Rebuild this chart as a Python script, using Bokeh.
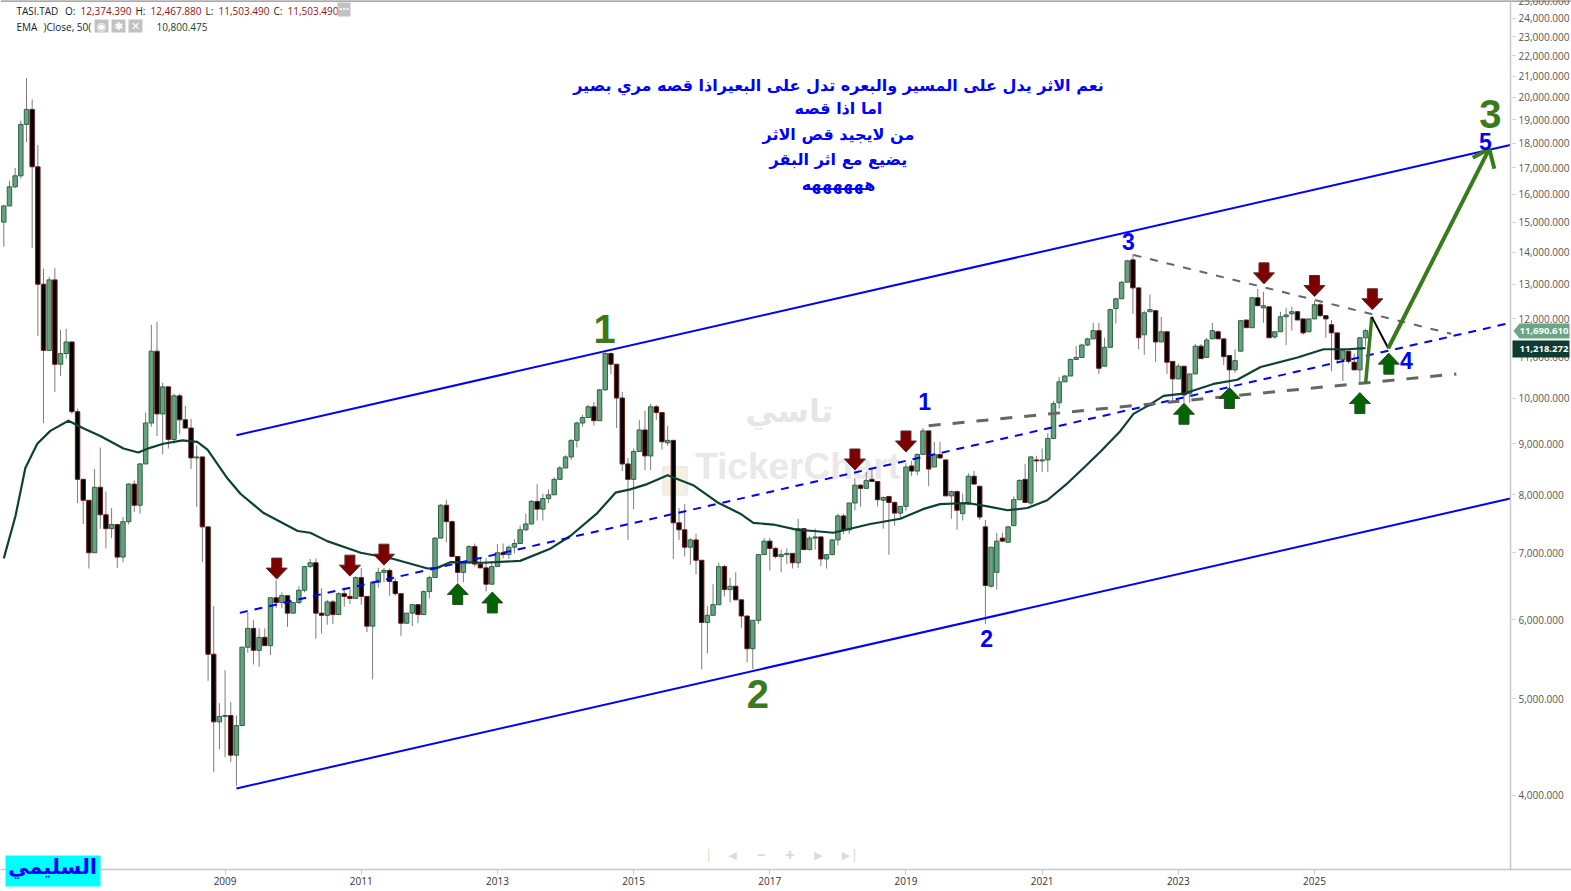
import math
from bokeh.plotting import figure
from bokeh.models import FixedTicker, NumeralTickFormatter, Label, PolyAnnotation, Range1d
from bokeh.core.properties import value
from bokeh.embed import file_html
from bokeh.resources import INLINE

opens = [15000,15570,16270,16690,18790,19450,17040,13000,11160,13130,
10810,11080,11380,9690,8290,7900,7000,8140,7640,7400,
7470,6930,7520,8200,7810,8590,9440,11140,9640,10260,
9090,10050,9510,9330,8710,8730,7430,5540,4740,4800,
4810,4390,4700,5630,5880,5590,5760,5650,6310,6240,
6340,6090,6240,6420,6780,6840,6090,6060,6250,6070,
6370,6330,6300,6610,6330,5910,6540,6690,6720,6550,
6370,5950,6090,6210,6070,6400,6610,7240,7810,7520,
6940,6690,6840,7100,6820,6760,6510,6780,7000,6970,
7090,7150,7380,7480,7880,7740,7930,8000,8290,8510,
8730,9070,9440,9560,9800,9490,10190,11080,10810,10000,
8590,8290,8840,9290,8750,9800,9670,9020,9070,7500,
7380,7090,7210,6880,5960,6060,6210,6780,6430,6480,
6280,6050,5610,5990,6970,7190,7070,6940,6970,6990,
6840,7400,7050,7240,7260,6900,6970,7210,7620,7380,
7850,8180,8120,8290,8250,7900,7970,7860,7670,7790,
8550,8450,8780,9270,8530,8780,8670,7980,8060,7660,
7830,8350,8160,7430,6480,6690,7240,7170,7450,7910,
8290,7850,8670,8650,8670,9110,9890,10380,10520,10930,
10980,11300,11460,11680,10760,11240,12290,12570,13060,13750,
12890,11570,12200,12230,11380,11650,10880,10450,10760,10100,
10570,11270,10980,11460,11650,11460,11030,10670,11140,11970,
11760,12600,12310,12340,11510,11650,12060,12140,12200,12000,
11650,12000,12400,12090,11840,11620,10930,11140,10860,10670,
11490]

highs = [15610,16500,17000,18960,20900,19910,17920,13470,13220,13500,
11700,11730,11380,9760,8310,7900,8490,8920,8060,7760,
7470,7600,8220,8270,8610,9670,11840,11920,10360,10260,
10100,10100,9820,9530,8960,8730,7430,6190,4950,5340,
4960,4810,5630,6100,5990,5880,5880,6310,6570,6390,
6340,6250,6480,6790,6900,6910,6450,6280,6280,6390,
6460,6460,6630,6760,6330,6550,6760,6760,6750,6600,
6370,6090,6220,6220,6420,6640,7260,7830,7910,7540,
6940,6870,7120,7150,6930,6910,6870,7140,7150,7120,
7220,7450,7660,7900,8200,8020,8100,8330,8550,8760,
9090,9470,9620,9840,9910,10210,11110,11110,10810,10140,
8710,8900,9510,9710,9870,9840,9670,9380,9070,7760,
7830,7240,7310,6880,6190,6510,6840,6810,6610,6690,
6280,6050,5990,6970,7240,7240,7090,7050,7070,6990,
7570,7400,7280,7400,7260,6970,7220,7660,7660,7850,
8310,8200,8430,8490,8250,7970,7970,7880,7790,8610,
8650,8800,9330,9270,9040,9040,8670,8080,8080,8020,
8410,8450,8160,7550,7090,7330,7330,7450,7970,8290,
8590,8750,8750,8900,9220,9930,10500,10550,10950,11270,
11330,11490,11890,11890,11490,12290,12600,13090,13750,13940,
12890,12230,12690,12230,12060,11650,10880,10830,10760,10570,
11330,11330,11490,11890,11680,11460,11030,11190,11970,11970,
12630,12860,12770,12340,11650,12200,12310,12340,12230,12000,
12000,12510,12460,12090,11970,11620,11160,11160,11080,11510,
11730]

lows = [14170,15570,16230,16580,18040,14130,11540,9440,11160,10140,
10520,10950,9640,7850,7480,6750,7000,7400,7070,7240,
6760,6850,7470,7690,7660,8590,9360,9160,8780,8900,
9000,9200,9330,8490,7780,6850,5210,4220,4450,4370,
4320,4090,4700,5560,5410,5380,5650,5530,6160,6160,
5900,6090,6220,6390,6760,5740,5810,5930,5940,6070,
6180,6220,6300,6210,5830,5230,6460,6540,6340,6340,
5780,5950,5910,5950,6070,6300,6610,7240,7170,6930,
6540,6540,6840,6780,6760,6400,6510,6780,6910,6900,
6990,7150,7360,7470,7540,7540,7850,8000,8290,8510,
8670,8920,9360,9560,9380,9490,10170,10570,9330,8450,
7210,7740,8840,8470,8470,9510,8880,8960,6900,7210,
6940,6810,6660,5350,5550,6060,6210,6330,6240,6280,
5890,5440,5350,5940,6970,6720,6910,6690,6820,6750,
6760,7050,7050,7050,6790,6750,6960,7120,7310,7310,
7720,7780,8120,8250,7790,7400,6970,7450,7570,7710,
8350,8370,8780,8160,8530,8690,7980,7570,7380,7540,
7810,8200,7550,5940,6460,6430,7170,7170,7450,7910,
7860,7810,8430,8430,8430,9110,9760,10380,10520,10930,
10980,11270,11460,10570,10760,11240,11870,12570,13060,12140,
11190,11050,12200,10860,11380,10570,9930,10450,9890,9890,
10570,10950,10980,11460,11460,10790,10240,10600,11140,11760,
11760,12370,11890,11490,11460,11650,11300,11680,11970,11570,
11650,12000,12060,11490,10640,10830,10400,10830,10670,10360,
11270]

closes = [15570,16270,16690,18790,19450,17040,13000,11160,13130,10810,
11080,11380,9690,8290,7900,7000,8140,7640,7400,7470,
6930,7520,8200,7810,8590,9440,11140,9640,10260,9090,
10050,9510,9330,8710,8730,7430,5540,4740,4800,4810,
4390,4700,5630,5880,5590,5760,5650,6310,6240,6340,
6090,6240,6420,6780,6840,6090,6060,6250,6070,6370,
6330,6300,6610,6330,5910,6540,6690,6720,6550,6370,
5950,6090,6210,6070,6400,6610,7240,7810,7520,6940,
6690,6840,7100,6820,6760,6510,6780,7000,6970,7090,
7150,7380,7480,7880,7740,7930,8000,8290,8510,8730,
9070,9440,9560,9800,9490,10190,11080,10810,10000,8590,
8290,8840,9290,8750,9800,9670,9040,9070,7500,7380,
7090,7210,6880,5960,6060,6210,6780,6430,6480,6280,
6050,5610,5990,6970,7190,7070,6940,6970,6990,6840,
7400,7050,7240,7260,6900,6970,7210,7620,7380,7850,
8180,8120,8270,8250,7910,7950,7860,7670,7790,8530,
8450,8780,9270,8490,8780,8710,7980,8060,7720,7830,
8350,8200,7600,6490,7090,7190,7190,7430,7910,8270,
7860,8730,8650,8670,9110,9870,10380,10520,10930,10980,
11300,11460,11680,10710,11240,12260,12570,13060,13720,12890,
11490,12170,12260,11380,11650,10860,10450,10760,10070,10570,
11270,10950,11430,11680,11460,11000,10670,10900,11950,11760,
12600,12370,12370,11490,11650,12060,12110,12200,11970,11620,
12000,12400,12090,12000,11620,10930,11160,10880,10670,11490,
11680]

ema_idx = [0,2.06,3.8,5.9,8.2,11.4,13.9,17,21.1,23.7,25.9,28.1,31.5,34.1,35.9,39.4,41.7,45.8,51.8,54,57,62.9,68.7,74.7,76.4,78.7,84.5,91,96.4,99.9,104.6,107.8,110.4,113.4,117,121.5,125.8,129.8,132.1,135.6,139.9,142.7,146.2,152.7,158,162,165,169.8,173.4,176.9,180.4,183.9,187.5,190.3,193.3,196.8,199.1,201.6,204.4,207.9,213.2,217.4,221.5,228,232.6,236.8,240]
ema_val = [6910,7620,8510,9000,9270,9490,9330,9160,8900,8820,8920,9000,9070,9040,8880,8310,8020,7670,7360,7330,7190,7000,6900,6750,6760,6850,6840,6870,7070,7280,7670,8040,8100,8200,8370,8180,7860,7660,7500,7470,7380,7360,7330,7480,7570,7740,7830,7850,7790,7720,7760,7900,8220,8510,8840,9270,9640,9820,10050,10100,10330,10430,10740,10980,11190,11190,11218]

year_labels = ["2009","2011","2013","2015","2017","2019","2021","2023","2025"]
year_ticks = [39,63,87,111,135,159,183,207,231]
price_ticks = [4000,5000,6000,7000,8000,9000,10000,11000,12000,13000,14000,15000,16000,17000,18000,19000,20000,21000,22000,23000,24000]

red_tip_idx = [48.1,61,67,150,159,222.1,231,241.2]
red_tip_val = [6587,6632,6802,8471,8830,13010,12637,12256]
green_tip_idx = [80,86.1,208,216,239,244.1]
green_tip_val = [6520,6395,9880,10246,10126,11090]

channel_top = ([41,265.5],[9178,17920])
channel_bot = ([41,265.5],[4065,7931])
blue_dash = ([41.6,265.5],[6094,11890])
gray_thick = ([163,256],[9380,10570])
gray_thin = ([199.1,255.1],[13906,11595])
green_leg = ([240,241.1],[10334,12057])
black_leg = ([241.1,244],[12057,11216])
big_arrow = ([244,261.8],[11216,17760])
arrow_head = ([258.9,261.8,262.7],[17400,17760,16960])

arabic_lines = ["نعم الاثر يدل على المسير والبعره تدل على البعيراذا قصه مري بصير","اما اذا قصه","من لايجيد قص الاثر","يضيع مع اثر البقر","ههههههه"]
arabic_val = [20570,19490,18370,17320,16345]

# scale of the reference: px per month and px per log unit
PX_X = 5.674
PX_Y = 433.8
W, H = 1571, 891
x0 = -3.3 / PX_X
x1 = (W - 3.3) / PX_X
y_low = 4000 * math.exp(-(H - 795) / PX_Y)
y_axis_base = 4000 * math.exp(-(869 - 795) / PX_Y)
x_axis_pos = (1510 - 3.3) / PX_X

p = figure(width=W, height=H, y_axis_type="log", y_axis_location="right",
           x_range=Range1d(x0, x1), y_range=Range1d(y_low, 25001),
           output_backend="svg", toolbar_location=None,
           min_border_left=0, min_border_right=0, min_border_top=0, min_border_bottom=0,
           background_fill_color="white", border_fill_color="white")
p.grid.visible = False
p.outline_line_color = None

AX = "#c8c8c8"
FONT = "Open Sans"
p.xaxis.fixed_location = y_axis_base
p.xaxis.ticker = FixedTicker(ticks=year_ticks)
p.xaxis.major_label_overrides = dict(zip(year_ticks, year_labels))
p.xaxis.axis_line_color = AX
p.xaxis.axis_line_width = 1.5
p.xaxis.major_tick_line_color = AX
p.xaxis.minor_tick_line_color = None
p.xaxis.major_tick_in = 0
p.xaxis.major_tick_out = 5
p.xaxis.major_label_standoff = 3
p.xaxis.major_label_text_font = FONT
p.xaxis.major_label_text_font_size = "10px"
p.xaxis.major_label_text_color = "#333333"
p.yaxis.fixed_location = x_axis_pos
p.yaxis.bounds = (y_axis_base, 25001)
p.yaxis.ticker = FixedTicker(ticks=price_ticks)
p.yaxis.formatter = NumeralTickFormatter(format="0,0.000")
p.yaxis.axis_line_color = AX
p.yaxis.axis_line_width = 1.5
p.yaxis.major_tick_line_color = AX
p.yaxis.minor_tick_line_color = None
p.yaxis.major_tick_in = -2
p.yaxis.major_tick_out = 5
p.yaxis.major_label_standoff = 3
p.yaxis.major_label_text_font = FONT
p.yaxis.major_label_text_font_size = "10px"
p.yaxis.major_label_text_color = "#555555"

# top rule
p.line([x0, x1], [24980, 24980], line_color="#8c8c8c", line_width=2)
# topmost scale value, cut by the page edge as in the reference
p.text(x=[(1518 - 3.3) / PX_X], y=[25000], text=["25,000.000"], text_font=value(FONT), text_font_size="10px",
       text_color="#555555", text_align="left", text_baseline="middle")

# watermark
p.text(x=[138.4], y=[9700], text=["تاسي"], text_font=value("DejaVu Sans"), text_font_size="32px", text_font_style="bold",
       text_color="#e6e6e6", text_align="center", text_baseline="middle")
p.text(x=[139.9], y=[8530], text=["TickerChart"], text_font=value("Liberation Sans"), text_font_style="bold",
       text_font_size="37px", text_color="#e9e9e9", text_align="center", text_baseline="middle")
p.quad(left=[116.2], right=[120.4], bottom=[8000], top=[8530], fill_color="#f5f1e0", line_color="#ececec", line_width=2)

# candles
idx = list(range(len(opens)))
up = [i for i in idx if closes[i] >= opens[i]]
dn = [i for i in idx if closes[i] < opens[i]]
p.segment(idx, highs, idx, lows, line_color="#7c7c7c", line_width=1)
p.vbar(x=up, width=0.78, bottom=[opens[i] for i in up], top=[closes[i] for i in up],
       fill_color="#67a27f", line_color="#2f6246", line_width=1)
p.vbar(x=dn, width=0.78, bottom=[closes[i] for i in dn], top=[opens[i] for i in dn],
       fill_color="#000000", line_color="#6e1a1a", line_width=1)

# EMA
p.line(ema_idx, ema_val, line_color="#0e4034", line_width=2.2, line_join="round")

# trend lines
BLUE = "#0000ff"
GREEN = "#3a7a1c"
GRAY = "#666666"
p.line(*channel_top, line_color=BLUE, line_width=2)
p.line(*channel_bot, line_color=BLUE, line_width=2)
p.line(*blue_dash, line_color=BLUE, line_width=2, line_dash="8 7")
p.line(*gray_thick, line_color=GRAY, line_width=3, line_dash="12 12")
p.line(*gray_thin, line_color=GRAY, line_width=2, line_dash="8 9")
p.line(*green_leg, line_color=GREEN, line_width=3.5)
p.line(*black_leg, line_color="#000000", line_width=2)
p.line(*big_arrow, line_color=GREEN, line_width=4)
p.line(*arrow_head, line_color=GREEN, line_width=4)

# block arrows, built from a tip in data space and a shape of fixed pixel size
DOWN_SHAPE = [(0, 0), (10.5, 11), (5, 11), (5, 21), (-5, 21), (-5, 11), (-10.5, 11)]
def arrow(ti, tv, sign):
    xs = [ti + dx / PX_X for dx, _ in DOWN_SHAPE]
    ys = [tv * math.exp(sign * dy / PX_Y) for _, dy in DOWN_SHAPE]
    return xs, ys
rx, ry = zip(*[arrow(a, b, 1) for a, b in zip(red_tip_idx, red_tip_val)])
gx, gy = zip(*[arrow(a, b, -1) for a, b in zip(green_tip_idx, green_tip_val)])
p.patches(list(rx), list(ry), fill_color="#7d0000", line_color="#5c2b2b", line_width=1)
p.patches(list(gx), list(gy), fill_color="#006400", line_color="#2c4a2c", line_width=1)

# wave labels
SANS = value("Liberation Sans")
p.text(x=[105.9, 132.9, 262], y=[11730, 5060, 19230], text=["1", "2", "3"], text_font=SANS, text_font_style="bold",
       text_font_size="40px", text_color=GREEN, text_align="center", text_baseline="middle")
p.text(x=[162.3, 173.2, 198.2, 261.1, 247.2], y=[9910, 5750, 14330, 18080, 10905], text=["1", "2", "3", "5", "4"],
       text_font=SANS, text_font_style="bold", text_font_size="23px", text_color=BLUE,
       text_align="center", text_baseline="middle")

# Arabic block
p.text(x=[147.1] * 5, y=arabic_val, text=arabic_lines, text_font=value("DejaVu Sans"), text_font_style="bold",
       text_font_size="16px", text_color=BLUE, text_align="center", text_baseline="middle")

def lab(x, y, t, color="#222222", size="10px", font=FONT, style="normal", align="left"):
    p.add_layout(Label(x=x, y=H - y, x_units="screen", y_units="screen", text=t, text_color=color,
                       text_font=font, text_font_size=size, text_font_style=style,
                       text_align=align, text_baseline="middle"))
def box(l, t, r, b, color):
    p.add_layout(PolyAnnotation(xs=[l, r, r, l], ys=[t, t, b, b], xs_units="canvas", ys_units="canvas",
                                fill_color=color, fill_alpha=1, line_color=None))

RED = "#8f1414"
lab(16, 10.5, "TASI.TAD")
lab(64.5, 10.5, "O:"); lab(80, 10.5, "12,374.390", RED)
lab(135, 10.5, "H:"); lab(150, 10.5, "12,467.880", RED)
lab(205, 10.5, "L:"); lab(218, 10.5, "11,503.490", RED)
lab(273, 10.5, "C:"); lab(287, 10.5, "11,503.490", RED)
box(337, 2, 350, 16, "#c2c2c2"); lab(343.5, 8, "···", "white", "12px", style="bold", align="center")
lab(16, 26, "EMA")
lab(43, 26, ")Close, 50(")
lab(156, 26, "10,800.475", "#0e4034")
for l, g in [(94, "◉"), (111, "✱"), (128, "✕")]:
    box(l, 19, l + 14, 32, "#c2c2c2")
    lab(l + 7, 25.5, g, "white", "11px", "DejaVu Sans", align="center")

# nav bar
for x_, g in [(712, "▏"), (732, "◀"), (760.6, "━"), (789, "✚"), (818, "▶"), (845.6, "▶"), (850, "▕")]:
    lab(x_, 855, g, "#dcdcdc", "11px", "DejaVu Sans", align="center")

# price tags
p.add_layout(PolyAnnotation(xs=[1513, 1519, 1569, 1569, 1519], ys=[330.5, 323, 323, 338, 338], xs_units="canvas", ys_units="canvas",
                            fill_color="#6ba583", fill_alpha=1, line_color=None))
box(1512, 340, 1569, 357, "#0e3b32")
lab(1519, 330.5, "11,690.610", "white", "9.5px", style="bold")
lab(1519, 348, "11,218.272", "white", "9.5px", style="bold")

# name tag
box(5, 855, 100, 886, "#00ffff")
lab(52, 866, "السليمي", BLUE, "21px", "DejaVu Sans", style="bold", align="center")

assert len(opens) == len(highs) == len(lows) == len(closes) == 241
open("out.html", "w").write(file_html(p, INLINE))
